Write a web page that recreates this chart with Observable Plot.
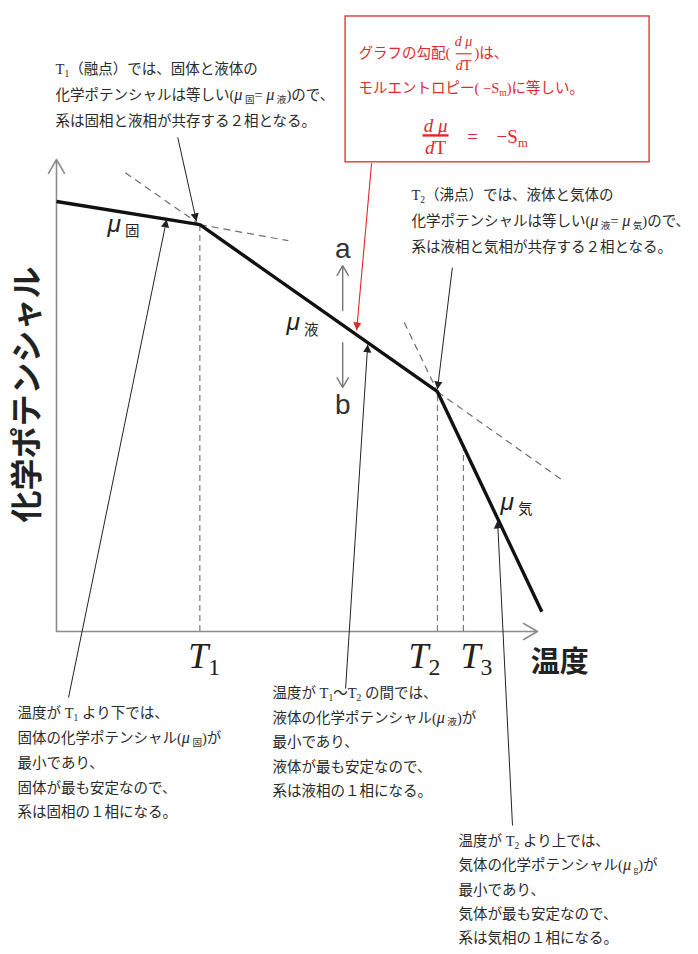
<!DOCTYPE html>
<html><head><meta charset="utf-8">
<script src="https://cdn.jsdelivr.net/npm/d3@7"></script>
<script src="https://cdn.jsdelivr.net/npm/@observablehq/plot@0.6"></script>
<style>html,body{margin:0;padding:0;background:#fff;} svg{display:block;}</style>
</head><body><div id="chart"></div>
<script>
// ---- data (temperature T, chemical potential μ, arbitrary units) ----
const pathT  = [0, 29.8, 79.2, 100.9];
const pathMu = [91.1, 86.2, 50.8, 4.2];

const transT  = [29.8, 79.2, 84.6];
const transMu = [86.2, 50.8, 38.3];
const tickLabels = ["T_{1}", "T_{2}", "T_{3}"];
const tickLabelT = [27.4, 73.2, 84.0];

// tangent extensions (dashed): from, to
const extT1 = [14.3, 29.8, 72.3, 79.2];
const extMu1 = [97.2, 86.2, 65.5, 50.8];
const extT2 = [29.8, 48.2, 79.2, 105.0];
const extMu2 = [86.2, 82.8, 50.8, 32.2];

const phaseLabels = ["*{μ}_{ 固}", "*{μ}_{ 液}", "*{μ}_{ 気}"];
const phaseLabelT = [10.6, 47.8, 92.3];
const phaseLabelMu = [86.2, 65.3, 27.3];

const axisMax = 100;
const yTitle = "化学ポテンシャル";
const xTitle = "温度";

const noteMelt = [
  "T_{1}（融点）では、固体と液体の",
  "化学ポテンシャルは等しい(*{μ}_{ 固}= *{μ}_{ 液})ので、",
  "系は固相と液相が共存する２相となる。"
];
const noteBoil = [
  "T_{2}（沸点）では、液体と気体の",
  "化学ポテンシャルは等しい(*{μ}_{ 液}= *{μ}_{ 気})ので、",
  "系は液相と気相が共存する２相となる。"
];
const noteSolid = [
  "温度が T_{1} より下では、",
  "固体の化学ポテンシャル(*{μ}_{ 固})が",
  "最小であり、",
  "固体が最も安定なので、",
  "系は固相の１相になる。"
];
const noteLiquid = [
  "温度が T_{1}〜T_{2} の間では、",
  "液体の化学ポテンシャル(*{μ}_{ 液})が",
  "最小であり、",
  "液体が最も安定なので、",
  "系は液相の１相になる。"
];
const noteGas = [
  "温度が T_{2} より上では、",
  "気体の化学ポテンシャル(*{μ}_{ g})が",
  "最小であり、",
  "気体が最も安定なので、",
  "系は気相の１相になる。"
];
const slopeLine1a = "グラフの勾配(";
const slopeLine1b = ")は、";
const slopeLine2 = "モルエントロピー( −S_{m})に等しい。";
const fracTop = "*{d μ}";
const fracBottom = "*{d}T";
const eqRight = "−S_{m}";

// annotation pointers: [T from, μ from, T to, μ to]
const pointerFromT = [25.2, 2.5, 60.1, 82.3, 94.8];
const pointerFromMu = [104.7, -14.0, -12.1, 77.1, -41.1];
const pointerToT = [29.1, 22.9, 64.7, 79.2, 91.7];
const pointerToMu = [86.9, 87.3, 60.8, 51.3, 23.5];
const redPointer = [65.5, 99.2, 62.4, 63.8];

// ---- layout helpers ----
const bodyFont = "'Liberation Serif','Noto Sans CJK JP',serif";
const gothic = "'Noto Sans CJK JP',sans-serif";
const red = "#e0282d";
const block = (lines, x, y0, step) => lines.map((t, i) => ({x, y: y0 - i * step, t}));
const seg = (a1, b1, a2, b2) => a1.map((_, i) => ({x1: a1[i], y1: b1[i], x2: a2[i], y2: b2[i]}));

const bodyRows = [
  ...block(noteMelt, -0.2, 119.1, 5.55),
  ...block(noteBoil, 73.8, 92.4, 5.5),
  ...block(noteSolid, -8.1, -17.4, 5.25),
  ...block(noteLiquid, 44.9, -13.1, 5.2),
  ...block(noteGas, 83.6, -44.5, 5.15)
];

const pointers = seg(pointerFromT, pointerFromMu, pointerToT, pointerToMu);

const svg = Plot.plot({
  width: 698, height: 954, margin: 0,
  x: {domain: [0, axisMax], range: [56, 537], axis: null},
  y: {domain: [0, axisMax], range: [631, 159], axis: null},
  style: {background: "#fff", overflow: "visible"},
  marks: [
    // axes
    Plot.arrow([{x1: 0, y1: 0, x2: 0, y2: axisMax}, {x1: 0, y1: 0, x2: axisMax, y2: 0}],
      {x1: "x1", y1: "y1", x2: "x2", y2: "y2", stroke: "#8c8c8c", strokeWidth: 1.6, headLength: 15, headAngle: 60}),
    // transition verticals
    Plot.ruleX(transT.map((t, i) => ({t, m: transMu[i]})), {x: "t", y1: 0, y2: "m", stroke: "#7a7a7a", strokeWidth: 1.2, strokeDasharray: "6,4"}),
    // tangent extensions
    Plot.link(seg(extT1, extMu1, extT2, extMu2), {x1: "x1", y1: "y1", x2: "x2", y2: "y2", stroke: "#6e6e6e", strokeWidth: 1.2, strokeDasharray: "7,5"}),
    // chemical potential curve
    Plot.line(pathT.map((t, i) => ({t, m: pathMu[i]})), {x: "t", y: "m", stroke: "#111", strokeWidth: 3.4, strokeLinejoin: "miter", strokeLinecap: "butt"}),
    // a / b arrows
    Plot.arrow([{x1: 59.5, y1: 68.0, x2: 59.5, y2: 77.5}, {x1: 59.5, y1: 61.2, x2: 59.5, y2: 51.7}],
      {x1: "x1", y1: "y1", x2: "x2", y2: "y2", stroke: "#777", strokeWidth: 1.4, headLength: 12, headAngle: 60}),
    Plot.text(["a", "b"], {x: 59.5, y: [81.1, 47.9], text: d => d, fontSize: 28, fontFamily: "'Liberation Sans',Arial,sans-serif", fill: "#333"}),
    // phase labels on the curve
    Plot.text(phaseLabels, {x: phaseLabelT, y: phaseLabelMu, text: d => d, textAnchor: "start", fontSize: 22, fontFamily: "'Liberation Sans','Noto Sans CJK JP',sans-serif", fill: "#222"}),
    // tick labels
    Plot.text(tickLabels, {x: tickLabelT, y: -5.2, text: d => d, textAnchor: "start", fontSize: 36, fontStyle: "italic", fontFamily: "'Liberation Serif',serif", fill: "#222"}),
    // axis titles
    Plot.text([yTitle], {x: -6.0, y: 50.2, text: d => d, rotate: -90, fontSize: 32, fontWeight: "bold", fontFamily: gothic, fill: "#222"}),
    Plot.text([xTitle], {x: 104.6, y: -6.6, text: d => d, fontSize: 29, fontWeight: "bold", fontFamily: gothic, fill: "#222"}),
    // pointers
    Plot.link(pointers, {x1: "x1", y1: "y1", x2: "x2", y2: "y2", stroke: "#222", strokeWidth: 1, markerEnd: "arrow"}),
    Plot.link([{x1: redPointer[0], y1: redPointer[1], x2: redPointer[2], y2: redPointer[3]}], {x1: "x1", y1: "y1", x2: "x2", y2: "y2", stroke: red, strokeWidth: 1.1, markerEnd: "arrow"}),
    // body notes
    Plot.text(bodyRows, {x: "x", y: "y", text: "t", textAnchor: "start", fontSize: 14.5, fontFamily: bodyFont, fill: "#2a2a2a"}),
    // red box
    Plot.rect([{x1: 60.1, x2: 123.3, y1: 99.4, y2: 130.3}], {x1: "x1", x2: "x2", y1: "y1", y2: "y2", fill: "none", stroke: red, strokeWidth: 1.3}),
    Plot.text([slopeLine1a, slopeLine2], {x: 62.8, y: [122.5, 115.0], text: d => d, textAnchor: "start", fontSize: 14.5, fontFamily: bodyFont, fill: red}),
    Plot.text([slopeLine1b], {x: 86.9, y: 122.5, text: d => d, textAnchor: "start", fontSize: 14.5, fontFamily: bodyFont, fill: red}),
    Plot.text([fracTop, fracBottom], {x: 84.6, y: [124.9, 119.9], text: d => d, fontSize: 14, fontFamily: bodyFont, fill: red}),
    Plot.link([{x1: 83.0, x2: 86.3, y: 122.4}], {x1: "x1", x2: "x2", y1: "y", y2: "y", stroke: red, strokeWidth: 1.1}),
    Plot.text([fracTop, fracBottom], {x: 78.8, y: [107.2, 102.5], text: d => d, fontSize: 19, fontFamily: bodyFont, fill: red}),
    Plot.link([{x1: 76.1, x2: 81.5, y: 105.1}], {x1: "x1", x2: "x2", y1: "y", y2: "y", stroke: red, strokeWidth: 2.4}),
    Plot.text(["="], {x: 86.5, y: 104.7, text: d => d, fontSize: 19, fontFamily: bodyFont, fill: red}),
    Plot.text([eqRight], {x: 91.5, y: 104.7, text: d => d, textAnchor: "start", fontSize: 19, fontFamily: bodyFont, fill: red})
  ]
});

// rich text: _{sub} and *{italic}
d3.select(svg).selectAll("text").each(function () {
  const s = this.textContent;
  if (!/[_*]\{/.test(s)) return;
  const el = d3.select(this);
  el.text(null);
  const parts = s.split(/(_\{[^}]*\}|\*\{[^}]*\})/).filter(p => p);
  let prevSub = false;
  for (const p of parts) {
    const ts = el.append("tspan");
    if (p.startsWith("_{")) {
      ts.text(p.slice(2, -1)).attr("font-size", "0.66em").attr("font-style", "normal");
      if (!prevSub) ts.attr("dy", "0.3em");
      prevSub = true;
    } else {
      if (p.startsWith("*{")) {
        const inner = p.slice(2, -1);
        ts.text(inner).attr("font-style", "italic");
        if (inner === "μ") ts.attr("font-size", "1.12em");
      } else ts.text(p);
      if (prevSub) ts.attr("dy", "-0.198em");
      prevSub = false;
    }
  }
});

// filled arrowheads for pointers
d3.select(svg).selectAll("marker").each(function () {
  const m = d3.select(this);
  const c = m.attr("stroke") || "#222";
  m.attr("fill", c).attr("stroke", "none").attr("markerUnits", "userSpaceOnUse")
    .attr("markerWidth", 16).attr("markerHeight", 16);
  m.selectAll("path").attr("d", "M-5,-2.6L0,0L-5,2.6Z");
});

document.getElementById("chart").appendChild(svg);
</script></body></html>
